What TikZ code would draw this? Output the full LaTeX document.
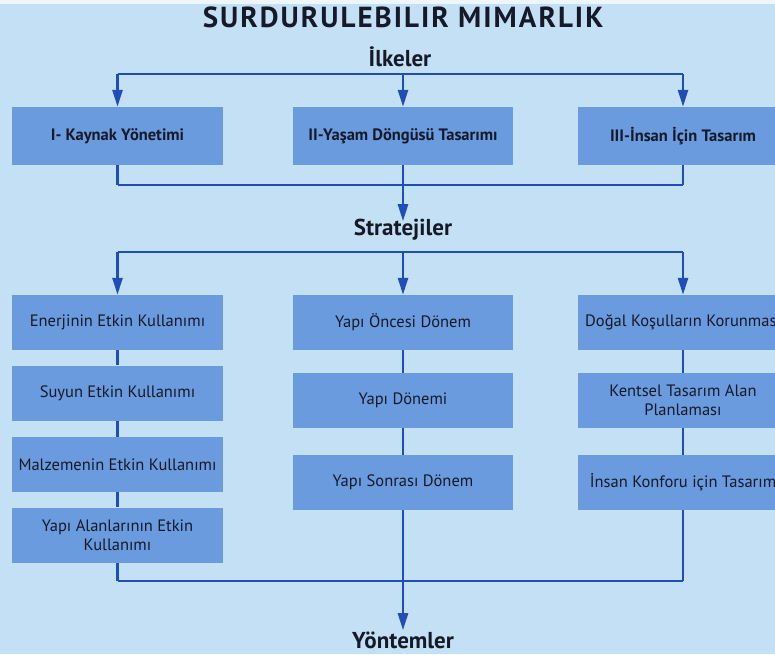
\documentclass[tikz,border=0pt]{standalone}
\usepackage{fontspec}
\setmainfont{PT Sans}
\newfontfamily\titlefont[LetterSpace=7]{PT Sans}
\usetikzlibrary{arrows.meta}
\definecolor{pagebg}{RGB}{196,224,244}
\definecolor{boxfill}{RGB}{106,155,222}
\definecolor{linkblue}{RGB}{32,78,184}
\definecolor{ink}{RGB}{22,26,40}
\begin{document}
\begin{tikzpicture}[x=1pt,y=-1pt,
  box/.style={fill=boxfill, draw=none, inner sep=0pt, align=center,
    text=ink, minimum height=55pt, font=\fontsize{16.5}{19}\selectfont},
  leftbox/.style={box, minimum width=211pt},
  midbox/.style={box, minimum width=220pt},
  rightbox/.style={box, minimum width=210pt},
  headbox/.style={minimum height=58pt, font=\bfseries\fontsize{16.5}{19}\selectfont},
  heading/.style={text=ink, inner sep=1pt, font=\bfseries\fontsize{23}{25}\selectfont},
  link/.style={draw=linkblue, line width=2.6pt},
  arr/.style={link, -{Triangle[length=17pt,width=10pt]}}]
\useasboundingbox (0,0) rectangle (775,654);
\fill[pagebg] (0,0) rectangle (775,654);
\fill[white!70!pagebg] (0,0) rectangle (775,4);
\clip (0,0) rectangle (775,654);

% titles
\node[text=ink, anchor=base, font=\titlefont\bfseries\fontsize{29}{31}\selectfont] (title) at (403,27) {SURDURULEBILIR MIMARLIK};
\node[heading, anchor=base] (ilke) at (400,66) {İlkeler};
\node[heading] (strat) at (403,230) {Stratejiler};
\node[heading, anchor=base] (yont) at (403,648) {Yöntemler};

% principles
\node[leftbox, headbox] (k1) at (117.5,136) {I- Kaynak Yönetimi};
\node[midbox, headbox] (k2) at (403,136) {II-Yaşam Döngüsü Tasarımı};
\node[rightbox, headbox] (k3) at (683,136) {III-İnsan İçin Tasarım};

% strategies, left column
\node[leftbox] (e1) at (117.5,322.5) {Enerjinin Etkin Kullanımı};
\node[leftbox] (e2) at (117.5,393) {Suyun Etkin Kullanımı};
\node[leftbox] (e3) at (117.5,464.5) {Malzemenin Etkin Kullanımı};
\node[leftbox] (e4) at (117.5,535) {Yapı Alanlarının Etkin\\Kullanımı};

% strategies, middle column
\node[midbox] (m1) at (403,322.5) {Yapı Öncesi Dönem};
\node[midbox] (m2) at (403,400.5) {Yapı Dönemi};
\node[midbox] (m3) at (403,482.5) {Yapı Sonrası Dönem};

% strategies, right column
\node[rightbox] (r1) at (683,322.5) {Doğal Koşulların Korunması};
\node[rightbox] (r2) at (683,400.5) {Kentsel Tasarım Alan\\Planlaması};
\node[rightbox] (r3) at (683,482.5) {İnsan Konforu için Tasarım};

% junction points on the horizontal bars
\coordinate (a1) at (k1.north |- 0,74);
\coordinate (a2) at (k2.north |- 0,74);
\coordinate (a3) at (k3.north |- 0,74);
\coordinate (b1) at (k1.south |- 0,185);
\coordinate (b2) at (k2.south |- 0,185);
\coordinate (b3) at (k3.south |- 0,185);
\coordinate (c1) at (e1.north |- 0,252);
\coordinate (c2) at (m1.north |- 0,252);
\coordinate (c3) at (r1.north |- 0,252);
\coordinate (d1) at (e4.south |- 0,581);
\coordinate (d3) at (r3.south |- 0,581);

% Ilkeler -> principles
\draw[link] (a1) -- (a3);
\draw[arr] (a1) -- (k1.north);
\draw[arr] (a2) -- (k2.north);
\draw[arr] (a3) -- (k3.north);

% principles -> Stratejiler
\draw[link] (k1.south) -- (b1);
\draw[link] (k2.south) -- (b2);
\draw[link] (k3.south) -- (b3);
\draw[link] (b1) -- (b3);
\draw[arr, shorten >=-3pt] (b2) -- (strat.north);

% Stratejiler -> strategy columns
\draw[link] (c1) -- (c3);
\draw[arr] (c1) -- (e1.north);
\draw[arr] (c2) -- (m1.north);
\draw[arr] (c3) -- (r1.north);

% column links
\draw[link] (e1) -- (e2);
\draw[link] (e2) -- (e3);
\draw[link] (e3) -- (e4);
\draw[link] (m1) -- (m2);
\draw[link] (m2) -- (m3);
\draw[link] (r1) -- (r2);
\draw[link] (r2) -- (r3);

% columns -> Yontemler
\draw[link] (e4.south) -- (d1);
\draw[link] (r3.south) -- (d3);
\draw[link] (d1) -- (d3);
\draw[arr] (m3.south) -- (yont.north);
\end{tikzpicture}
\end{document}
